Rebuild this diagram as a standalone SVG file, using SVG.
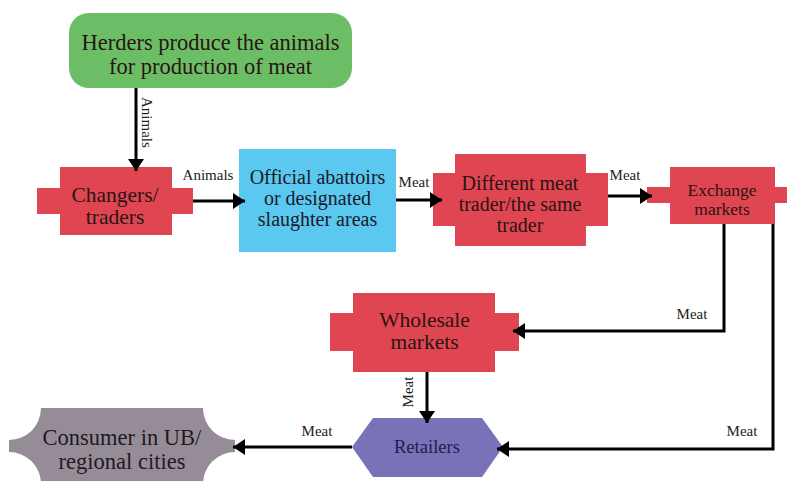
<svg xmlns="http://www.w3.org/2000/svg" width="787" height="481" viewBox="0 0 787 481">
<style>
  .nodetxt { font-family: "Liberation Serif", "Times New Roman", serif; text-anchor: middle; }
  .dark { fill: #2a1414; }
  .red { fill: #e04651; }
  .lbl { font-family: "Liberation Serif", "Times New Roman", serif; font-size: 15px; fill: #222; }
  .c { fill: none; stroke: #000; stroke-width: 3; }
</style>
<defs>
  <marker id="ah" markerUnits="userSpaceOnUse" viewBox="0 0 12 16" markerWidth="12" markerHeight="16" refX="12" refY="8" orient="auto">
    <path d="M0,0 L12,8 L0,16 Z" fill="#000"/>
  </marker>
</defs>
<rect width="787" height="481" fill="#fff"/>

<g id="herders">
  <rect x="69" y="13" width="283" height="75" rx="20" fill="#6cbe66"/>
  <text class="nodetxt dark" style="font-family:'Liberation Serif',serif" font-size="22.5" x="210.5" y="50">Herders produce the animals</text>
  <text class="nodetxt dark" style="font-family:'Liberation Serif',serif" font-size="22.5" x="210.5" y="74">for production of meat</text>
</g>

<g id="changers">
  <path class="red" d="M60,167 H172 V188 H193 V214 H172 V235 H60 V214 H37 V188 H60 Z"/>
  <text class="nodetxt dark" style="font-family:'Liberation Serif',serif" font-size="21.5" x="115" y="202">Changers/</text>
  <text class="nodetxt dark" style="font-family:'Liberation Serif',serif" font-size="21.5" x="115" y="224">traders</text>
</g>

<g id="abattoirs">
  <rect x="239" y="149" width="157" height="103" fill="#5bc8f0"/>
  <text class="nodetxt" style="font-family:'Liberation Serif',serif" fill="#1a1a2a" font-size="20" x="317.5" y="184">Official abattoirs</text>
  <text class="nodetxt" style="font-family:'Liberation Serif',serif" fill="#1a1a2a" font-size="20" x="317.5" y="205">or designated</text>
  <text class="nodetxt" style="font-family:'Liberation Serif',serif" fill="#1a1a2a" font-size="20" x="317.5" y="226">slaughter areas</text>
</g>

<g id="different-trader">
  <path class="red" d="M455,154 H586 V173 H608 V226 H586 V246 H455 V226 H433 V173 H455 Z"/>
  <text class="nodetxt dark" style="font-family:'Liberation Serif',serif" font-size="20" x="520" y="190">Different meat</text>
  <text class="nodetxt dark" style="font-family:'Liberation Serif',serif" font-size="20" x="520" y="211">trader/the same</text>
  <text class="nodetxt dark" style="font-family:'Liberation Serif',serif" font-size="20" x="520" y="232">trader</text>
</g>

<g id="exchange">
  <path class="red" d="M670,167 H775 V187 H790 V203 H775 V224 H670 V203 H647 V187 H670 Z"/>
  <text class="nodetxt dark" style="font-family:'Liberation Serif',serif" font-size="17.5" x="722" y="196">Exchange</text>
  <text class="nodetxt dark" style="font-family:'Liberation Serif',serif" font-size="17.5" x="722" y="215">markets</text>
</g>

<g id="wholesale">
  <path class="red" d="M353,293 H495 V313 H519 V351 H495 V372 H353 V351 H330 V313 H353 Z"/>
  <text class="nodetxt dark" style="font-family:'Liberation Serif',serif" font-size="21.5" x="424.5" y="327">Wholesale</text>
  <text class="nodetxt dark" style="font-family:'Liberation Serif',serif" font-size="21.5" x="424.5" y="349">markets</text>
</g>

<g id="retailers">
  <polygon points="373,418 482,418 503,447 482,477 373,477 352,447" fill="#7873b9"/>
  <text class="nodetxt" style="font-family:'Liberation Serif',serif" fill="#20204a" font-size="18.6" x="427" y="453">Retailers</text>
</g>

<g id="consumer">
  <path d="M41,408 H203 A32,32 0 0 0 235,440 V452 A32,32 0 0 0 203,484 H41 A32,32 0 0 0 9,452 V440 A32,32 0 0 0 41,408 Z" fill="#968c98"/>
  <text class="nodetxt" style="font-family:'Liberation Serif',serif" fill="#1e1a1e" font-size="22.5" x="122" y="445">Consumer in UB/</text>
  <text class="nodetxt" style="font-family:'Liberation Serif',serif" fill="#1e1a1e" font-size="22.5" x="122" y="469">regional cities</text>
</g>

<g id="connectors">
  <line class="c" x1="136" y1="88" x2="136" y2="171" marker-end="url(#ah)"/>
  <line class="c" x1="193" y1="201" x2="245" y2="201" marker-end="url(#ah)"/>
  <line class="c" x1="396" y1="200" x2="442" y2="200" marker-end="url(#ah)"/>
  <line class="c" x1="608" y1="196" x2="652" y2="196" marker-end="url(#ah)"/>
  <polyline class="c" points="724,224 724,331 513,331" marker-end="url(#ah)"/>
  <polyline class="c" points="773,224 773,449 497,449" marker-end="url(#ah)"/>
  <line class="c" x1="427" y1="372" x2="427" y2="423" marker-end="url(#ah)"/>
  <line class="c" x1="352" y1="447" x2="233" y2="447" marker-end="url(#ah)"/>

  <text class="lbl" transform="translate(142,97) rotate(90)">Animals</text>
  <text class="lbl" x="208" y="180" text-anchor="middle">Animals</text>
  <text class="lbl" x="414" y="187" text-anchor="middle">Meat</text>
  <text class="lbl" x="625" y="180" text-anchor="middle">Meat</text>
  <text class="lbl" x="692" y="319" text-anchor="middle">Meat</text>
  <text class="lbl" x="742" y="436" text-anchor="middle">Meat</text>
  <text class="lbl" x="317" y="436" text-anchor="middle">Meat</text>
  <text class="lbl" transform="translate(413,392) rotate(-90)" text-anchor="middle">Meat</text>
</g>
</svg>
